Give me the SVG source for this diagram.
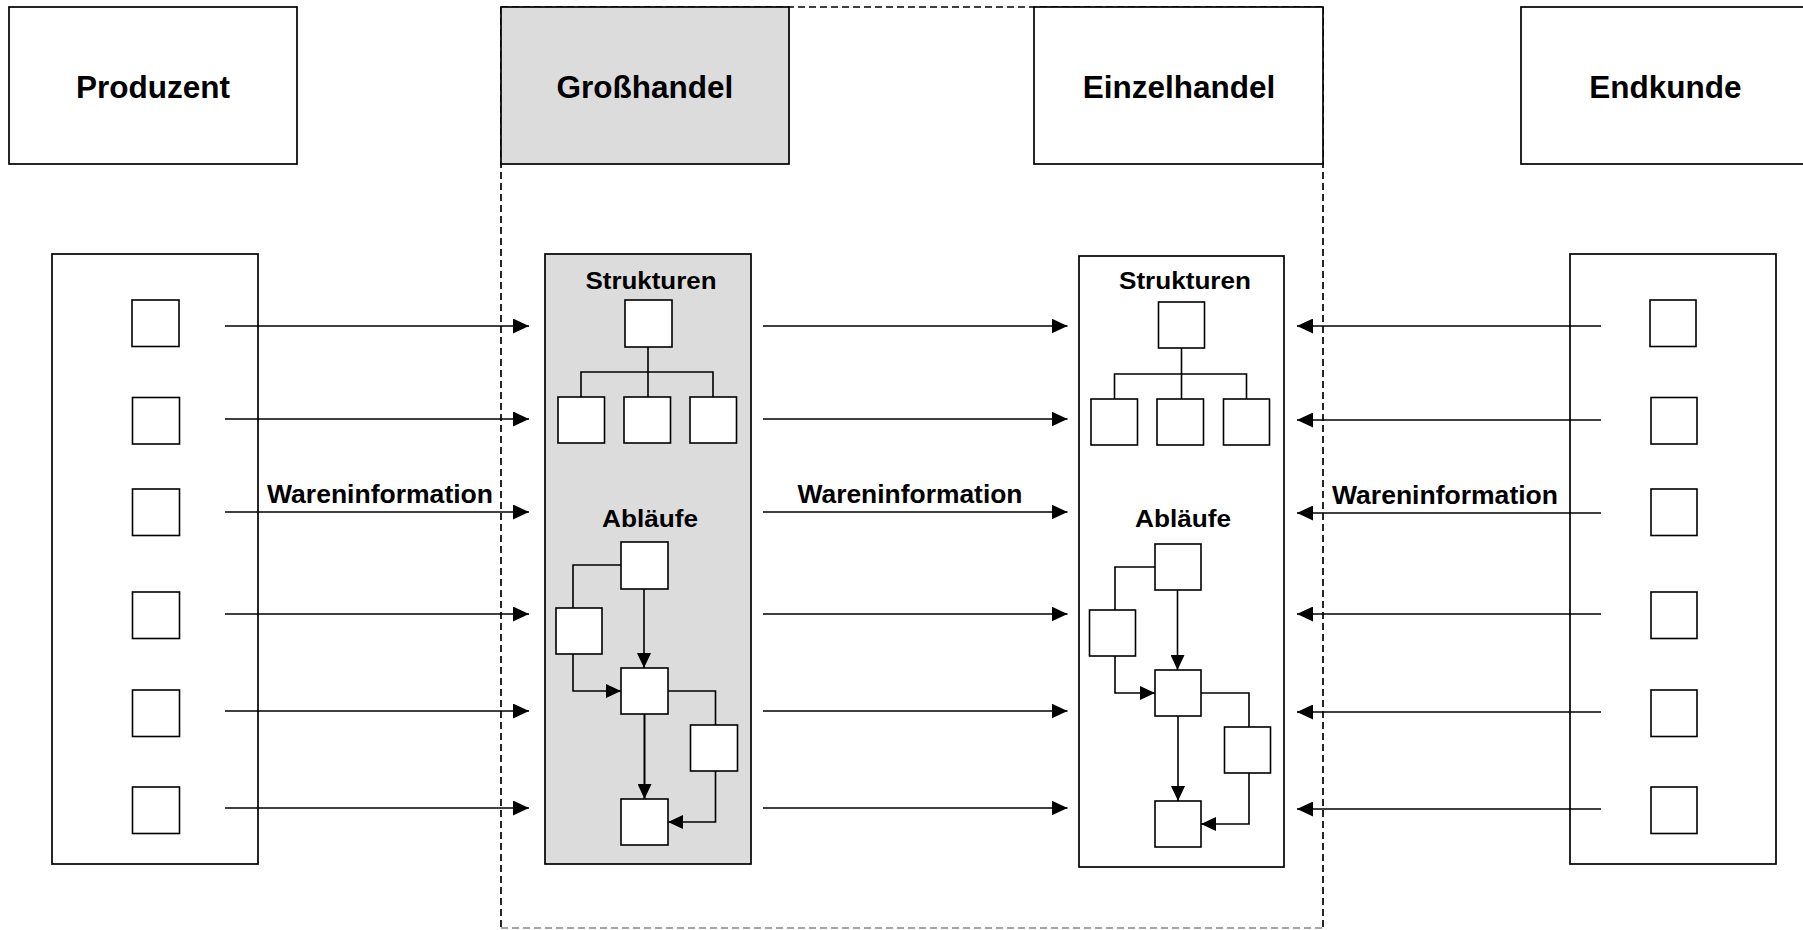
<svg xmlns="http://www.w3.org/2000/svg" width="1803" height="930" viewBox="0 0 1803 930">
<style>
.box{fill:#fff;stroke:#000;stroke-width:1.7}
.gray{fill:#dcdcdc;stroke:#000;stroke-width:1.7}
.sq{fill:#fff;stroke:#000;stroke-width:1.6}
.ln{fill:none;stroke:#000;stroke-width:1.6}
.arr{fill:none;stroke:#000;stroke-width:1.7;marker-end:url(#ah)}
.farr{fill:none;stroke:#000;stroke-width:1.6;marker-end:url(#ahs)}
.dash{fill:none;stroke:#000;stroke-width:1.7;stroke-dasharray:7,4}
.title{font-family:"Liberation Sans",Arial,sans-serif;font-weight:bold;font-size:31.5px;text-anchor:middle;fill:#000}
.lbl{font-family:"Liberation Sans",Arial,sans-serif;font-weight:bold;font-size:25px;text-anchor:middle;fill:#000}
.sub{font-family:"Liberation Sans",Arial,sans-serif;font-weight:bold;font-size:23.5px;text-anchor:middle;fill:#000}
</style>
<defs>
<marker id="ah" markerUnits="userSpaceOnUse" markerWidth="16" markerHeight="15" refX="16" refY="7.5" orient="auto">
<path d="M0,0 L16,7.5 L0,15 z" fill="#000"/>
</marker>
<marker id="ahs" markerUnits="userSpaceOnUse" markerWidth="15" markerHeight="14" refX="15" refY="7" orient="auto">
<path d="M0,0 L15,7 L0,14 z" fill="#000"/>
</marker>
</defs>
<rect width="1803" height="930" fill="#fff"/>

<g id="boundary">
<line class="dash" x1="501" y1="7" x2="1323" y2="7"/>
<line class="dash" x1="501" y1="7" x2="501" y2="928"/>
<line class="dash" x1="1323" y1="7" x2="1323" y2="928"/>
<line class="dash" x1="501" y1="928" x2="1323" y2="928" style="stroke:#888"/>
</g>

<g id="produzent">
<rect class="box" x="9" y="7" width="288" height="157"/>
<text class="title" x="153" y="98">Produzent</text>
</g>
<g id="grosshandel">
<rect class="gray" x="501" y="7" width="288" height="157"/>
<text class="title" x="645" y="98">Großhandel</text>
</g>
<g id="einzelhandel">
<rect class="box" x="1034" y="7" width="289" height="157"/>
<text class="title" x="1179" y="98">Einzelhandel</text>
</g>
<g id="endkunde">
<rect class="box" x="1521" y="7" width="289" height="157"/>
<text class="title" x="1665.5" y="98">Endkunde</text>
</g>

<g id="produzent-panel">
<rect class="box" x="52" y="254" width="206" height="610"/>
<rect class="sq" x="132" y="300" width="47" height="46.5"/>
<rect class="sq" x="132.5" y="397.5" width="47" height="46.5"/>
<rect class="sq" x="132.5" y="489" width="47" height="46.5"/>
<rect class="sq" x="132.5" y="592" width="47" height="46.5"/>
<rect class="sq" x="132.5" y="690" width="47" height="46.5"/>
<rect class="sq" x="132.5" y="787" width="47" height="46.5"/>
</g>

<g id="endkunde-panel">
<rect class="box" x="1570" y="254" width="206" height="610"/>
<rect class="sq" x="1650" y="300" width="46" height="46.5"/>
<rect class="sq" x="1651" y="397.5" width="46" height="46.5"/>
<rect class="sq" x="1651" y="489" width="46" height="46.5"/>
<rect class="sq" x="1651" y="592" width="46" height="46.5"/>
<rect class="sq" x="1651" y="690" width="46" height="46.5"/>
<rect class="sq" x="1651" y="787" width="46" height="46.5"/>
</g>

<g id="grosshandel-panel">
<rect class="gray" x="545" y="254" width="206" height="610"/>
<text class="sub" x="651" y="289" textLength="131" lengthAdjust="spacingAndGlyphs">Strukturen</text>
<rect class="sq" x="625" y="300" width="47" height="47"/>
<path class="ln" d="M648,347 V397 M581,397 V372 H713 V397"/>
<rect class="sq" x="558" y="397" width="46.5" height="46"/>
<rect class="sq" x="624" y="397" width="46.5" height="46"/>
<rect class="sq" x="690" y="397" width="46.5" height="46"/>
<text class="sub" x="650" y="527" textLength="96" lengthAdjust="spacingAndGlyphs">Abläufe</text>
<path class="ln" d="M621,565 H573 V608"/>
<path class="farr" d="M573,654 V691 H621"/>
<path class="farr" d="M644,589 V668"/>
<path class="ln" d="M668,691 H715.5 V725"/>
<path class="farr" d="M644.5,714 V799" style="stroke-width:2"/>
<path class="farr" d="M715.5,771 V822 H668"/>
<rect class="sq" x="621" y="542" width="47" height="47"/>
<rect class="sq" x="556" y="608" width="46" height="46"/>
<rect class="sq" x="621" y="668" width="47" height="46"/>
<rect class="sq" x="690.5" y="725" width="47" height="46"/>
<rect class="sq" x="621" y="799" width="47" height="46"/>
</g>

<g id="einzelhandel-panel">
<rect class="box" x="1079" y="256" width="205" height="611"/>
<text class="sub" x="1185" y="289" textLength="132" lengthAdjust="spacingAndGlyphs">Strukturen</text>
<rect class="sq" x="1158.5" y="302" width="46" height="46"/>
<path class="ln" d="M1181.5,348 V399 M1114.5,399 V374 H1246.5 V399"/>
<rect class="sq" x="1091" y="399" width="46.5" height="46"/>
<rect class="sq" x="1157" y="399" width="46.5" height="46"/>
<rect class="sq" x="1223.5" y="399" width="46" height="46"/>
<text class="sub" x="1183" y="527" textLength="96" lengthAdjust="spacingAndGlyphs">Abläufe</text>
<path class="ln" d="M1155,567 H1115 V610"/>
<path class="farr" d="M1115,656 V693 H1155"/>
<path class="farr" d="M1177.5,590 V670"/>
<path class="ln" d="M1201,693 H1249 V727"/>
<path class="farr" d="M1178,716 V801"/>
<path class="farr" d="M1249,773 V824 H1201"/>
<rect class="sq" x="1155" y="544" width="46" height="46"/>
<rect class="sq" x="1089.5" y="610" width="46" height="46"/>
<rect class="sq" x="1155" y="670" width="46" height="46"/>
<rect class="sq" x="1224.5" y="727" width="46" height="46"/>
<rect class="sq" x="1155" y="801" width="46" height="46"/>
</g>

<g id="connectors">
<line class="arr" x1="225" y1="326" x2="529" y2="326"/>
<line class="arr" x1="225" y1="419" x2="529" y2="419"/>
<line class="arr" x1="225" y1="512" x2="529" y2="512"/>
<line class="arr" x1="225" y1="614" x2="529" y2="614"/>
<line class="arr" x1="225" y1="711" x2="529" y2="711"/>
<line class="arr" x1="225" y1="808" x2="529" y2="808"/>
<line class="arr" x1="763" y1="326" x2="1067.5" y2="326"/>
<line class="arr" x1="763" y1="419" x2="1067.5" y2="419"/>
<line class="arr" x1="763" y1="512" x2="1067.5" y2="512"/>
<line class="arr" x1="763" y1="614" x2="1067.5" y2="614"/>
<line class="arr" x1="763" y1="711" x2="1067.5" y2="711"/>
<line class="arr" x1="763" y1="808" x2="1067.5" y2="808"/>
<line class="arr" x1="1601" y1="326" x2="1297" y2="326"/>
<line class="arr" x1="1601" y1="420" x2="1297" y2="420"/>
<line class="arr" x1="1601" y1="513" x2="1297" y2="513"/>
<line class="arr" x1="1601" y1="614" x2="1297" y2="614"/>
<line class="arr" x1="1601" y1="712" x2="1297" y2="712"/>
<line class="arr" x1="1601" y1="809" x2="1297" y2="809"/>
<text class="lbl" x="380" y="503" textLength="226" lengthAdjust="spacingAndGlyphs">Wareninformation</text>
<text class="lbl" x="910" y="503" textLength="225" lengthAdjust="spacingAndGlyphs">Wareninformation</text>
<text class="lbl" x="1445" y="504" textLength="226" lengthAdjust="spacingAndGlyphs">Wareninformation</text>
</g>
</svg>
